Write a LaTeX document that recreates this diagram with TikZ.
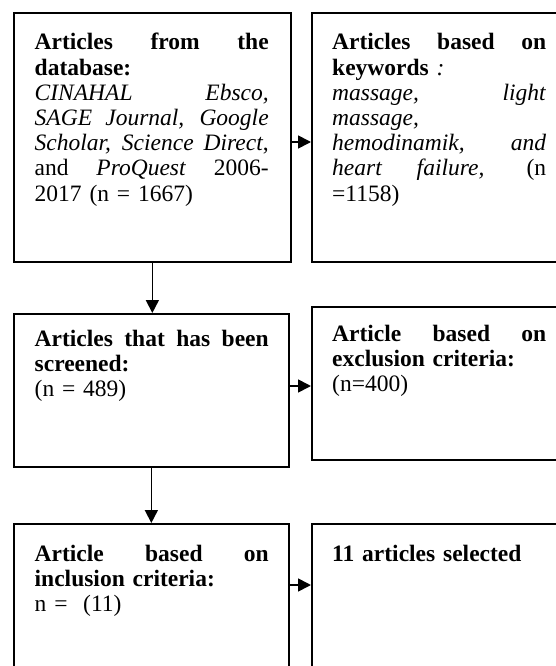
\documentclass[tikz,border=0pt]{standalone}
\usepackage{fontspec}
\setmainfont{Liberation Serif}
\usetikzlibrary{arrows.meta,calc}
\newcommand\jl[2]{{\spaceskip=0pt\xspaceskip=0pt\makebox[#1][s]{#2}}}
\begin{document}
\begin{tikzpicture}[x=1pt,y=-1pt,
  box/.style={draw, line width=1.7pt, rectangle, inner sep=0pt, anchor=north west},
  txt/.style={inner sep=0pt, anchor=base west, align=left, font=\fontsize{23.5}{25.2}\selectfont},
  arr/.style={line width=1.7pt, -{Triangle[length=13pt,width=13pt]}}]
\useasboundingbox (0,0) rectangle (556,666);
\clip (0,0) rectangle (556,666);
% boxes
\node[box, minimum width=277pt, minimum height=249pt] (b1) at (13,12) {};
\node[box, minimum width=257pt, minimum height=249pt] (b2) at (311,12) {};
\node[box, minimum width=275pt, minimum height=153pt] (b3) at (13,313) {};
\node[box, minimum width=257pt, minimum height=153pt] (b4) at (311,306) {};
\node[box, minimum width=275pt, minimum height=170pt] (b5) at (13,523) {};
\node[box, minimum width=257pt, minimum height=170pt] (b6) at (311,523) {};
% texts
\node[txt, text width=234pt] (t1) at (34.5,50) {%
\jl{234pt}{\textbf{Articles from the}}\\
\textbf{database:}\\
\jl{234pt}{\textit{CINAHAL Ebsco,}}\\
\jl{234pt}{\textit{SAGE Journal, Google}}\\
\jl{234pt}{\textit{Scholar, Science Direct},}\\
\jl{234pt}{and \textit{ProQuest} 2006-}\\
2017 (n = 1667)};
\node[txt, text width=214pt] (t2) at (332,50) {%
\jl{214pt}{\textbf{Articles based on}}\\
\textbf{keywords} \textit{:}\\
\jl{214pt}{\textit{massage, light}}\\
\textit{massage,}\\
\jl{214pt}{\textit{hemodinamik, and}}\\
\jl{214pt}{\textit{heart failure,} (n}\\
=1158)};
\node[txt, text width=234pt] (t3) at (34.5,346) {%
\jl{234pt}{\textbf{Articles that has been}}\\
\textbf{screened:}\\
(n = 489)};
\node[txt, text width=214pt] (t4) at (332,341) {%
\jl{214pt}{\textbf{Article based on}}\\
\textbf{exclusion criteria:}\\
(n=400)};
\node[txt, text width=234pt] (t5) at (34.5,561) {%
\jl{234pt}{\textbf{Article based on}}\\
\textbf{inclusion criteria:}\\
n = \ (11)};
\node[txt, text width=214pt] (t6) at (332,561) {%
\textbf{11 articles selected}};
% connectors
\draw[arr] ($(b1.north east)+(0,130)$) coordinate (a1) -- (a1 -| b2.west);
\draw[arr] ($(b3.north east)+(0,73)$) coordinate (a2) -- (a2 -| b4.west);
\draw[arr] ($(b5.north east)+(0,62)$) coordinate (a3) -- (a3 -| b6.west);
\draw[arr] (b1.south) -- (b1.south |- b3.north);
\draw[arr] (b3.south) -- (b3.south |- b5.north);
\end{tikzpicture}
\end{document}
